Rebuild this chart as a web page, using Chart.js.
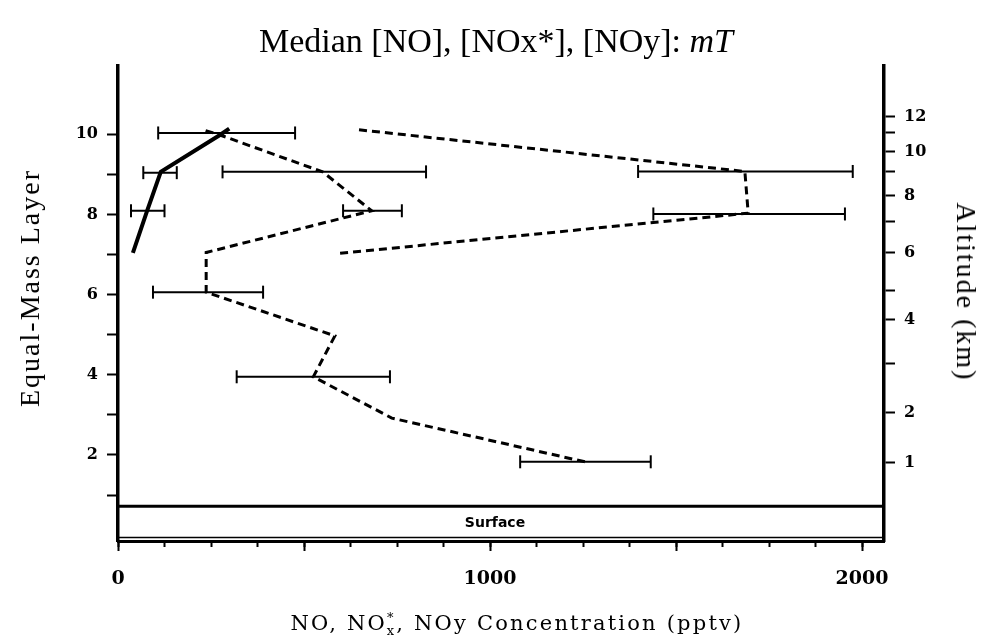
<!DOCTYPE html>
<html>
<head>
<meta charset="utf-8">
<script src="https://cdn.jsdelivr.net/npm/chart.js@4.4.1/dist/chart.umd.min.js"></script>
<style>
  html, body { margin: 0; padding: 0; background: #fff; }
  #wrap { position: relative; width: 988px; height: 639px; overflow: hidden; }
  #c { position: absolute; left: 0; top: 0; }
  .lbl { position: absolute; white-space: nowrap; color: #000; line-height: 1; }
  #title { left: 496px; top: 22px; transform: translateX(-50%); font: 34px "Liberation Serif", serif; }
  #xtitle { left: 517px; top: 611px; transform: translateX(-50%); font: 21px "DejaVu Serif", serif; letter-spacing: 2.2px; }
  #xtitle sub, #xtitle sup { font-size: 13px; line-height: 0; }
  #ytitle { left: 30px; top: 288px; transform: translate(-50%, -50%) rotate(-90deg); font: 28px "Liberation Serif", serif; letter-spacing: 2px; }
  #y2title { left: 966px; top: 292px; transform: translate(-50%, -50%) rotate(90deg); font: 28px "Liberation Serif", serif; letter-spacing: 2px; }
</style>
</head>
<body>
<div id="wrap">
  <canvas id="c" width="988" height="639"></canvas>
  <div class="lbl" id="title">Median [NO], [NOx*], [NOy]: <i>mT</i></div>
  <div class="lbl" id="xtitle">NO, NO<sup>*</sup><sub style="margin-left:-9px">x</sub>, NOy Concentration (pptv)</div>
  <div class="lbl" id="ytitle">Equal-Mass Layer</div>
  <div class="lbl" id="y2title">Altitude (km)</div>
</div>
<script>
// Median NO profile (solid) by equal-mass layer
const noLayer = [7.04, 8.08, 9.06, 9.98, 10.14];
const noValue = [40, 78, 115, 274, 299];
const noErrLayer = [8.09, 9.04];
const noErrLo = [35, 68];
const noErrHi = [125, 158];

// Median NOx* profile (dashed)
const noxLayer = [1.83, 2.92, 3.95, 4.97, 6.06, 7.05, 8.09, 9.06, 9.98, 10.12];
const noxValue = [1255, 736, 525, 583, 237, 237, 682, 550, 274, 225];
const noxErrLayer = [1.83, 3.95, 6.06, 8.09, 9.06, 10.03];
const noxErrLo = [1081, 319, 94, 605, 281, 108];
const noxErrHi = [1432, 731, 390, 763, 828, 476];

// Median NOy profile (dashed)
const noyLayer = [7.03, 8.03, 9.07, 10.12];
const noyValue = [597, 1694, 1685, 637];
const noyErrLayer = [8.01, 9.07];
const noyErrLo = [1439, 1398];
const noyErrHi = [1954, 1975];

// Axis ticks
const layerTicks = [1, 2, 3, 4, 5, 6, 7, 8, 9, 10];
const concMajorTicks = [0, 500, 1000, 1500, 2000];
const concMajorLabels = ['0', '', '1000', '', '2000'];
const concMinorTicks = [0, 125, 250, 375, 500, 625, 750, 875, 1000, 1125, 1250, 1375, 1500, 1625, 1750, 1875, 2000];
// Altitude (km) marks placed at their equal-mass layer position
const altLayer = [1.81, 3.05, 4.27, 5.37, 6.11, 7.04, 7.81, 8.46, 9.06, 9.57, 10.05, 10.44];
const altLabels = ['1', '2', '', '4', '', '6', '', '8', '', '10', '', '12'];

const toPoints = (layers, values) => layers.map((l, i) => ({ x: values[i], y: l }));

function errorBarSets(layers, lo, hi) {
  return layers.map((l, i) => ({
    data: [{ x: lo[i], y: l }, { x: hi[i], y: l }],
    showLine: true,
    borderColor: '#000',
    borderWidth: 2,
    pointStyle: 'line',
    rotation: 90,
    pointRadius: 6.5,
    pointHoverRadius: 6.5,
    pointBorderWidth: 2,
    pointBorderColor: '#000',
    order: 2
  }));
}

const datasets = [
  {
    label: 'NO',
    data: toPoints(noLayer, noValue),
    showLine: true, borderColor: '#000', borderWidth: 4, pointRadius: 0, order: 1
  },
  {
    label: 'NOx*',
    data: toPoints(noxLayer, noxValue),
    showLine: true, borderColor: '#000', borderWidth: 3, borderDash: [8, 5], pointRadius: 0, order: 1
  },
  {
    label: 'NOy',
    data: toPoints(noyLayer, noyValue),
    showLine: true, borderColor: '#000', borderWidth: 3, borderDash: [8, 5], pointRadius: 0, order: 1
  },
  ...errorBarSets(noErrLayer, noErrLo, noErrHi),
  ...errorBarSets(noxErrLayer, noxErrLo, noxErrHi),
  ...errorBarSets(noyErrLayer, noyErrLo, noyErrHi)
];

// Boxed "Surface" band at the foot of the profile
const surfaceBand = {
  id: 'surfaceBand',
  beforeDatasetsDraw(chart) {
    const { ctx, chartArea, scales } = chart;
    const yTop = scales.y.getPixelForValue(0.72);
    const yBot = scales.y.getPixelForValue(-0.06);
    ctx.save();
    ctx.strokeStyle = '#000';
    ctx.lineWidth = 3;
    ctx.beginPath();
    ctx.moveTo(chartArea.left, yTop);
    ctx.lineTo(chartArea.right, yTop);
    ctx.stroke();
    ctx.lineWidth = 1.5;
    ctx.beginPath();
    ctx.moveTo(chartArea.left, yBot);
    ctx.lineTo(chartArea.right, yBot);
    ctx.stroke();
    ctx.fillStyle = '#000';
    ctx.font = 'bold 14px "DejaVu Sans", sans-serif';
    ctx.textAlign = 'center';
    ctx.textBaseline = 'middle';
    ctx.fillText('Surface', (chartArea.left + chartArea.right) / 2 - 6, (yTop + yBot) / 2 + 1);
    ctx.restore();
  }
};

const tickFont = { family: '"DejaVu Serif", serif', weight: 'bold', size: 16 };
const xTickFont = { family: '"DejaVu Serif", serif', weight: 'bold', size: 19 };

new Chart(document.getElementById('c'), {
  type: 'scatter',
  data: { datasets },
  plugins: [surfaceBand],
  options: {
    responsive: false,
    animation: false,
    devicePixelRatio: 1,
    layout: { padding: { top: 66, left: 0, right: 0, bottom: 0 } },
    plugins: { legend: { display: false }, tooltip: { enabled: false }, title: { display: false } },
    scales: {
      x: {
        type: 'linear', position: 'bottom', min: 0, max: 2059, weight: 1,
        afterBuildTicks: s => { s.ticks = concMajorTicks.map(v => ({ value: v })); },
        afterFit: s => { s.height = 98; },
        ticks: { callback: (v, i) => concMajorLabels[i], color: '#000', font: xTickFont, padding: 17, maxRotation: 0, autoSkip: false },
        grid: { drawOnChartArea: false, tickLength: 10, tickWidth: 2, tickColor: '#000' },
        border: { display: true, color: '#000', width: 3 }
      },
      xMinor: {
        type: 'linear', position: 'bottom', min: 0, max: 2059, weight: 0,
        afterBuildTicks: s => { s.ticks = concMinorTicks.map(v => ({ value: v })); },
        afterFit: s => { s.height = 0; },
        ticks: { display: false },
        grid: { drawOnChartArea: false, tickLength: 6, tickWidth: 2, tickColor: '#000' },
        border: { display: false }
      },
      y: {
        type: 'linear', position: 'left', min: -0.145, max: 11.7,
        afterBuildTicks: s => { s.ticks = layerTicks.map(v => ({ value: v })); },
        afterFit: s => { s.width = 118; },
        ticks: { callback: v => (v % 2 === 0 ? String(v) : ''), color: '#000', font: tickFont, padding: 9, autoSkip: false },
        grid: { drawOnChartArea: false, tickLength: 11, tickWidth: 2, tickColor: '#000' },
        border: { display: true, color: '#000', width: 3.5 }
      },
      y2: {
        type: 'linear', position: 'right', min: -0.145, max: 11.7,
        afterBuildTicks: s => { s.ticks = altLayer.map(v => ({ value: v })); },
        afterFit: s => { s.width = 104; },
        ticks: { callback: (v, i) => altLabels[i], color: '#000', font: tickFont, padding: 9, autoSkip: false },
        grid: { drawOnChartArea: false, tickLength: 11, tickWidth: 2, tickColor: '#000' },
        border: { display: true, color: '#000', width: 3.5 }
      }
    }
  }
});
</script>
</body>
</html>
